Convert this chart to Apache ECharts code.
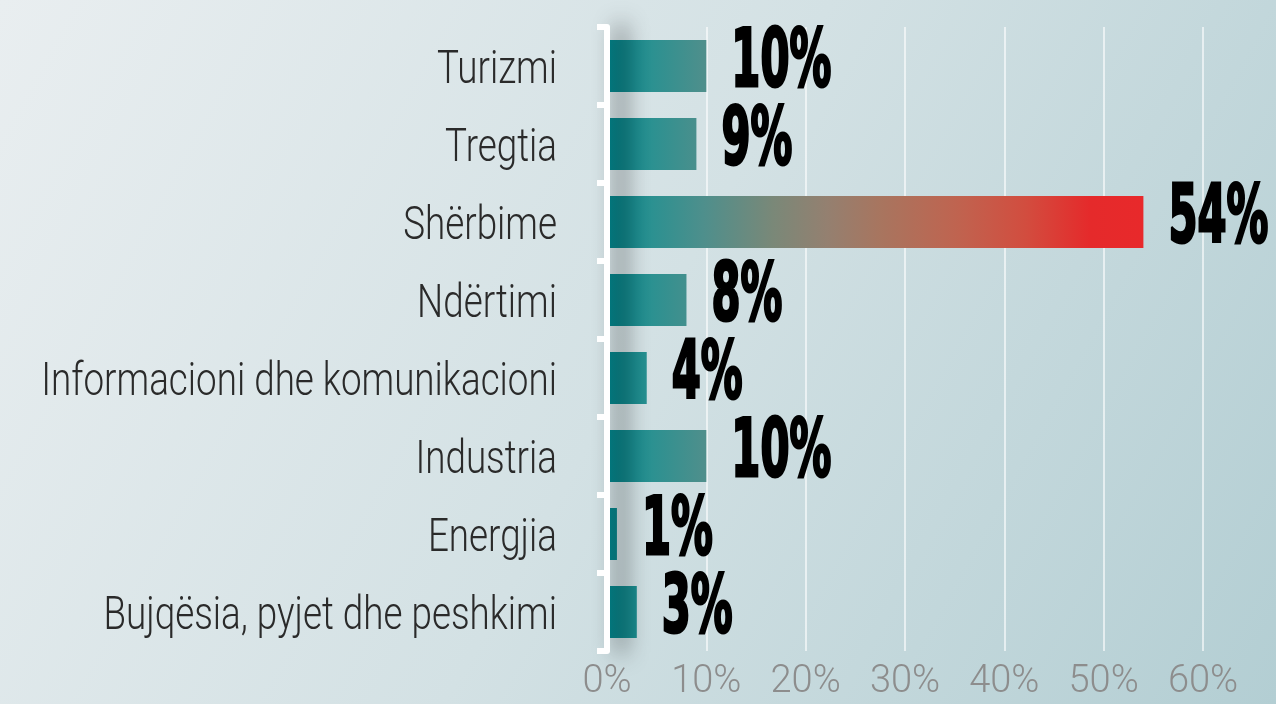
<!DOCTYPE html>
<html><head><meta charset="utf-8">
<script src="https://cdn.jsdelivr.net/npm/echarts@6/dist/echarts.min.js"></script>
<style>html,body{margin:0;padding:0;background:#dfe8ea;}#c{width:1276px;height:704px;}</style>
</head><body><div id="c"></div>
<script>
const categories = ['Turizmi','Tregtia','Shërbime','Ndërtimi','Informacioni dhe komunikacioni','Industria','Energjia','Bujqësia, pyjet dhe peshkimi'];
const values = [10, 9, 54, 8, 4, 10, 1, 3];
const xTicks = [0, 10, 20, 30, 40, 50, 60];

const chart = echarts.init(document.getElementById('c'), null, {renderer: 'canvas'});
const stops = [
  {offset: 0, color: '#00838a'},
  {offset: 0.08, color: '#2a9191'},
  {offset: 0.18, color: '#4e8f8c'},
  {offset: 0.31, color: '#7a8878'},
  {offset: 0.41, color: '#948070'},
  {offset: 0.51, color: '#a8755f'},
  {offset: 0.65, color: '#bf6450'},
  {offset: 0.78, color: '#d24d3f'},
  {offset: 0.9, color: '#e52a2b'},
  {offset: 1, color: '#e8292b'}
];
const option = {
  animation: false,
  backgroundColor: new echarts.graphic.LinearGradient(0, 0, 1, 1, [
    {offset: 0, color: '#e9eef0'},
    {offset: 0.5, color: '#d3e1e4'},
    {offset: 1, color: '#b3ced3'}
  ]),
  grid: {left: 607, right: 73, top: 27, bottom: 53, containLabel: false, outerBoundsMode: 'none'},
  xAxis: {
    type: 'value', min: xTicks[0], max: xTicks[xTicks.length - 1], interval: 10,
    axisLine: {show: false}, axisTick: {show: false},
    splitLine: {show: true, lineStyle: {color: 'rgba(255,255,255,0.6)', width: 2}},
    axisLabel: {
      formatter: v => v + '%', fontFamily: 'Roboto', fontWeight: 300,
      fontSize: 38, color: '#8d8d8d', margin: 12
    }
  },
  yAxis: {
    type: 'category', inverse: true, data: categories, z: 5,
    axisLine: {show: true, lineStyle: {color: '#ffffff', width: 6, shadowColor: 'rgba(0,0,0,0.8)', shadowBlur: 22, shadowOffsetX: 14}},
    axisTick: {show: true, length: 10, lineStyle: {color: '#ffffff', width: 6}},
    axisLabel: {show: false}
  },
  series: [
    {
      id: 'bars', type: 'bar', data: values, barWidth: 52, z: 2,
      itemStyle: {color: '#00838a'}
    },
    {
      id: 'catLabels', type: 'custom', z: 4, silent: true,
      data: values.map((v, i) => [0, i]),
      encode: {x: 0, y: 1},
      renderItem: function (params, api) {
        const p = api.coord([0, api.value(1)]);
        return {
          type: 'text', x: p[0] - 50, y: p[1] + 5, scaleX: 0.80,
          style: {
            text: categories[params.dataIndex],
            font: '300 46px Roboto',
            fill: '#2a2a2a', verticalAlign: 'middle', align: 'right'
          }
        };
      }
    },
    {
      id: 'labels', type: 'custom', z: 4, silent: true,
      data: values.map((v, i) => [v, i]),
      encode: {x: 0, y: 1},
      renderItem: function (params, api) {
        const p = api.coord([api.value(0), api.value(1)]);
        return {
          type: 'text', x: p[0] + 25, y: p[1] - 1, scaleX: 0.58,
          style: {
            text: api.value(0) + '%',
            font: 'bold 80px "DejaVu Sans Condensed", sans-serif',
            fill: '#000000', stroke: '#000000', lineWidth: 3,
            verticalAlign: 'middle', align: 'left'
          }
        };
      }
    }
  ]
};
chart.setOption(option);
const x0 = chart.convertToPixel({xAxisIndex: 0}, 0);
const x1 = chart.convertToPixel({xAxisIndex: 0}, Math.max.apply(null, values));
chart.setOption({series: [{id: 'bars', itemStyle: {color: new echarts.graphic.LinearGradient(x0, 0, x1, 0, stops, true)}}]});
</script>
</body></html>
